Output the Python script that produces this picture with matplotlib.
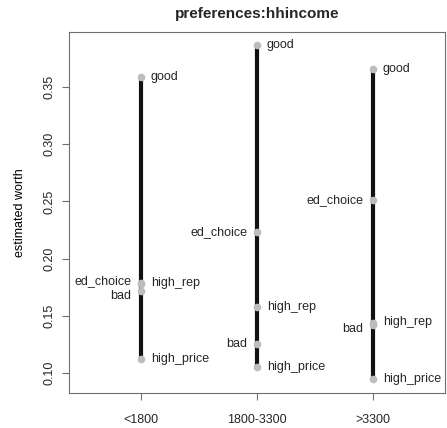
import matplotlib
matplotlib.use("Agg")
import matplotlib.pyplot as plt

plt.rcParams.update({
    "font.family": ["Liberation Sans", "DejaVu Sans"],
    "font.size": 9,
    "text.color": "#262626",
    "axes.edgecolor": "#6e6e6e",
    "xtick.color": "#6e6e6e",
    "ytick.color": "#6e6e6e",
    "xtick.labelcolor": "#262626",
    "ytick.labelcolor": "#262626",
})

groups = ["<1800", "1800-3300", ">3300"]
items = ["good", "ed_choice", "high_rep", "bad", "high_price"]
worth = {
    "<1800":     [0.3588, 0.1790, 0.1775, 0.1722, 0.1122],
    "1800-3300": [0.3865, 0.2236, 0.1581, 0.1256, 0.1058],
    ">3300":     [0.3655, 0.2512, 0.1440, 0.1425, 0.0948],
}
# which side of the line each label sits on
label_side = {
    "good": "right", "ed_choice": "left", "high_rep": "right",
    "bad": "left", "high_price": "right",
}
# small vertical nudges (in points) to keep crowded labels readable
nudge = {
    "<1800": {"ed_choice": 1, "bad": -4, "high_rep": 1},
    ">3300": {"bad": -3, "high_rep": 0.5},
}

fig = plt.figure(figsize=(4.47, 4.28), dpi=100)
ax = fig.add_axes([0.1544, 0.0818, 0.8411, 0.8434])

for i, g in enumerate(groups, start=1):
    vals = worth[g]
    ax.plot([i, i], [min(vals), max(vals)], color="#111111", lw=3.0,
            solid_capstyle="butt", zorder=2)
    ax.plot([i] * len(vals), vals, "o", color="#bdbdbd", ms=5.5, mew=0, zorder=3)
    for name, v in zip(items, vals):
        side = label_side[name]
        dx = 7 if side == "right" else -7
        dy = nudge.get(g, {}).get(name, 0)
        ax.annotate(name, (i, v), xytext=(dx, dy), textcoords="offset points",
                    ha="left" if side == "right" else "right", va="center",
                    fontsize=9, zorder=4)

ax.set_xlim(0.38, 3.62)
ax.set_ylim(0.0828, 0.3978)
ax.set_xticks([1, 2, 3])
ax.set_xticklabels(groups)
ax.set_yticks([0.10, 0.15, 0.20, 0.25, 0.30, 0.35])
ax.set_yticklabels(["0.10", "0.15", "0.20", "0.25", "0.30", "0.35"],
                   rotation=90, va="center")
ax.tick_params(length=5, width=0.8)
ax.tick_params(axis="x", pad=10)
ax.tick_params(axis="y", pad=5)
for s in ax.spines.values():
    s.set_linewidth(0.8)
ax.set_ylabel("estimated worth", fontsize=9, labelpad=12)
ax.set_title("preferences:hhincome", fontsize=11, fontweight="bold", pad=10)

fig.savefig("out.png", dpi=100)
